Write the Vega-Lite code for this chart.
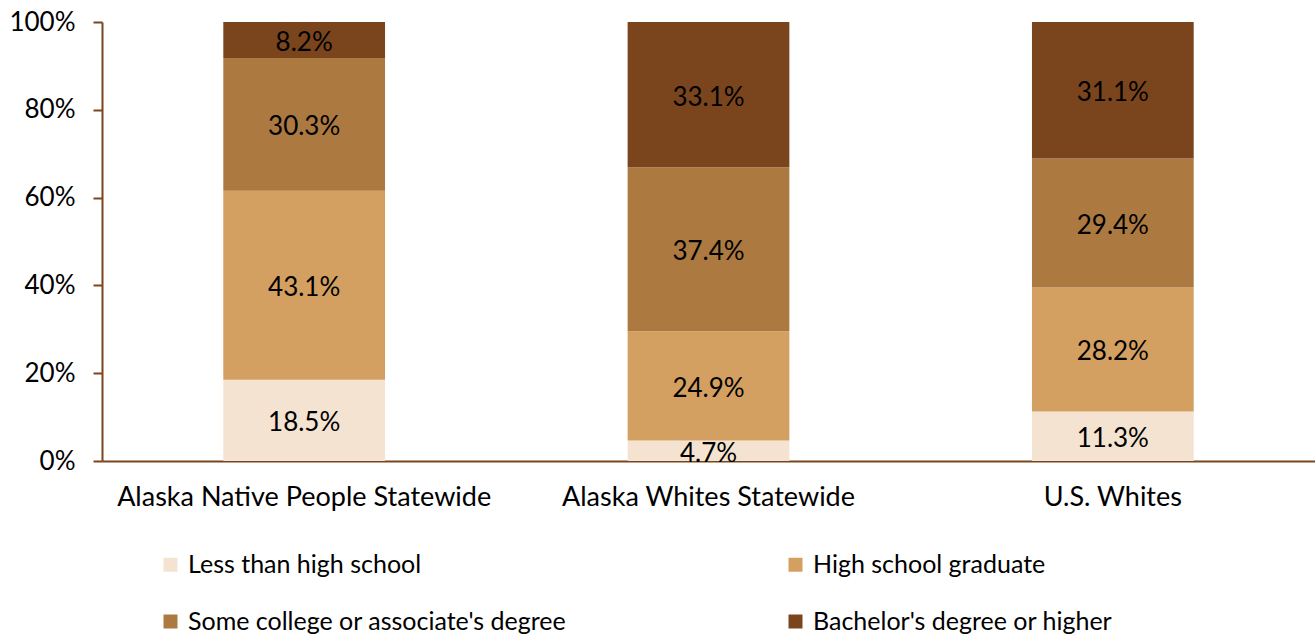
{
  "$schema": "https://vega.github.io/schema/vega-lite/v6.json",
  "width": 1213,
  "height": 439,
  "autosize": {"type": "none"},
  "padding": {"left": 102, "top": 22, "right": 0, "bottom": 174},
  "background": "white",
  "config": {
    "view": {"stroke": null},
    "font": "Lato",
    "axis": {"labelFont": "Lato", "labelFontSize": 25, "labelColor": "#000000", "grid": false, "domainColor": "#7A451C", "domainWidth": 2, "tickColor": "#7A451C", "tickWidth": 2, "title": null},
    "legend": {"labelFont": "Lato", "labelFontSize": 25, "labelColor": "#000000"}
  },
  "data": {
    "values": [
      {"group": "Alaska Native People Statewide", "level": "Less than high school", "order": 1, "value": 0.185},
      {"group": "Alaska Native People Statewide", "level": "High school graduate", "order": 2, "value": 0.431},
      {"group": "Alaska Native People Statewide", "level": "Some college or associate's degree", "order": 3, "value": 0.303},
      {"group": "Alaska Native People Statewide", "level": "Bachelor's degree or higher", "order": 4, "value": 0.082},
      {"group": "Alaska Whites Statewide", "level": "Less than high school", "order": 1, "value": 0.047},
      {"group": "Alaska Whites Statewide", "level": "High school graduate", "order": 2, "value": 0.249},
      {"group": "Alaska Whites Statewide", "level": "Some college or associate's degree", "order": 3, "value": 0.374},
      {"group": "Alaska Whites Statewide", "level": "Bachelor's degree or higher", "order": 4, "value": 0.331},
      {"group": "U.S. Whites", "level": "Less than high school", "order": 1, "value": 0.113},
      {"group": "U.S. Whites", "level": "High school graduate", "order": 2, "value": 0.282},
      {"group": "U.S. Whites", "level": "Some college or associate's degree", "order": 3, "value": 0.294},
      {"group": "U.S. Whites", "level": "Bachelor's degree or higher", "order": 4, "value": 0.311}
    ]
  },
  "encoding": {
    "x": {
      "field": "group", "type": "nominal", "sort": null,
      "scale": {"paddingInner": 0.6, "paddingOuter": 0.3},
      "axis": {"labelAngle": 0, "ticks": false, "labelPadding": 36, "labelBaseline": "middle", "labelLimit": 500, "labelFontSize": 27}
    },
    "y": {
      "field": "value", "type": "quantitative", "stack": "normalize",
      "scale": {"domain": [0, 1]},
      "axis": {"format": ".0%", "values": [0, 0.2, 0.4, 0.6, 0.8, 1], "tickSize": 9, "labelPadding": 18, "labelFontSize": 26}
    },
    "order": {"field": "order", "type": "quantitative"}
  },
  "layer": [
    {
      "mark": {"type": "bar"},
      "encoding": {
        "color": {
          "field": "level", "type": "nominal",
          "sort": ["Less than high school", "High school graduate", "Some college or associate's degree", "Bachelor's degree or higher"],
          "scale": {
            "domain": ["Less than high school", "High school graduate", "Some college or associate's degree", "Bachelor's degree or higher"],
            "range": ["#F3E3D0", "#D4A062", "#AC7941", "#7A451C"]
          },
          "legend": {
            "title": null, "orient": "none", "legendX": 56, "legendY": 530,
            "columns": 2, "columnPadding": 216, "rowPadding": 31,
            "symbolType": "square", "symbolSize": 196, "symbolStrokeWidth": 0, "labelOffset": 5,
            "labelLimit": 600, "direction": "horizontal"
          }
        }
      }
    },
    {
      "mark": {"type": "text", "fontSize": 26, "font": "Lato", "color": "#000000", "dy": 3},
      "encoding": {
        "y": {"field": "value", "type": "quantitative", "stack": "normalize", "bandPosition": 0.5},
        "text": {"field": "value", "type": "quantitative", "format": ".1%"}
      }
    }
  ]
}
